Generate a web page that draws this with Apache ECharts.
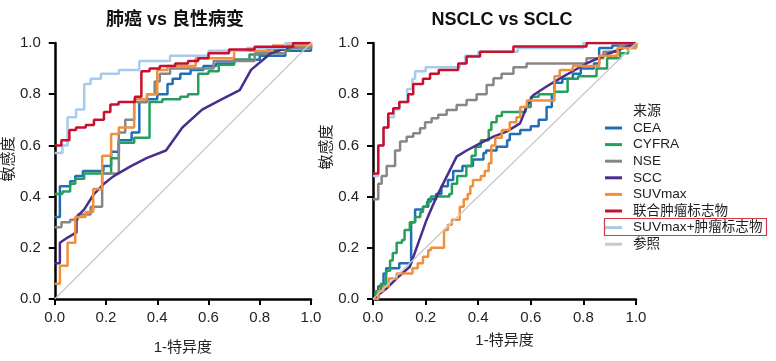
<!DOCTYPE html>
<html lang="zh">
<head>
<meta charset="UTF-8">
<title>ROC 曲线</title>
<script src="https://cdn.jsdelivr.net/npm/echarts@6/dist/echarts.min.js"></script>
<style>
  html, body { margin: 0; padding: 0; background: #fff; }
  #main { width: 776px; height: 361px; }
</style>
</head>
<body>
<div id="main"></div>
<script>
// tick labels / names
var ticks = [0, 0.2, 0.4, 0.6, 0.8, 1.0];
var seriesNames = ['CEA', 'CYFRA', 'NSE', 'SCC', 'SUVmax', '联合肿瘤标志物', 'SUVmax+肿瘤标志物', '参照'];
var colors = ['#1f6fb4', '#25a05c', '#868686', '#4b2d8d', '#f08f3c', '#c8102e', '#a8cbec', '#c9c9c9'];

// left panel: 肺癌 vs 良性病变  ([x, y] points where the curve steps up)
var leftCEA = [[0,0.32],[0.02,0.44],[0.06,0.46],[0.08,0.48],[0.11,0.50],[0.19,0.52],[0.22,0.575],[0.25,0.62],[0.30,0.65],[0.33,0.77],[0.36,0.78],[0.40,0.80],[0.44,0.84],[0.46,0.86],[0.49,0.88],[0.53,0.895],[0.58,0.91],[0.63,0.92],[0.70,0.935],[0.80,0.95],[0.90,0.97],[1,0.99]];
var leftCYFRA = [[0,0.41],[0.03,0.42],[0.06,0.45],[0.08,0.47],[0.115,0.49],[0.22,0.55],[0.25,0.61],[0.31,0.63],[0.37,0.77],[0.42,0.78],[0.49,0.79],[0.52,0.80],[0.56,0.88],[0.60,0.89],[0.64,0.915],[0.70,0.935],[0.76,0.955],[0.83,0.974],[0.92,0.987],[1,0.99]];
var leftNSE = [[0,0.28],[0.026,0.30],[0.06,0.31],[0.09,0.33],[0.14,0.36],[0.185,0.49],[0.25,0.65],[0.275,0.70],[0.31,0.77],[0.36,0.80],[0.39,0.85],[0.41,0.88],[0.45,0.90],[0.62,0.93],[0.78,0.96],[0.9,0.98],[1,1]];
var leftSCC = [[0,0.14],[0.02,0.14],[0.02,0.22],[0.05,0.24],[0.085,0.26],[0.085,0.32],[0.115,0.35],[0.153,0.41],[0.192,0.45],[0.23,0.48],[0.294,0.517],[0.358,0.55],[0.434,0.58],[0.498,0.67],[0.575,0.74],[0.651,0.78],[0.722,0.816],[0.766,0.895],[0.843,0.96],[0.92,0.985],[1,1]];
var leftSUV = [[0,0.06],[0.02,0.13],[0.05,0.22],[0.08,0.32],[0.12,0.34],[0.15,0.43],[0.185,0.56],[0.22,0.645],[0.25,0.67],[0.31,0.78],[0.36,0.80],[0.40,0.895],[0.44,0.91],[0.55,0.94],[0.7,0.97],[0.85,0.99],[1,1]];
var leftCombo = [[0,0.60],[0.026,0.62],[0.057,0.66],[0.083,0.67],[0.121,0.68],[0.153,0.70],[0.192,0.73],[0.217,0.76],[0.249,0.77],[0.313,0.79],[0.338,0.89],[0.37,0.90],[0.41,0.91],[0.47,0.92],[0.52,0.93],[0.56,0.94],[0.60,0.96],[0.68,0.975],[0.78,0.985],[0.93,1.0],[1,1]];
var leftSUVCombo = [[0,0.57],[0.03,0.60],[0.05,0.71],[0.083,0.74],[0.115,0.84],[0.14,0.86],[0.18,0.88],[0.25,0.895],[0.33,0.93],[0.45,0.95],[0.6,0.97],[0.75,0.98],[0.9,1],[1,1]];

// right panel: NSCLC vs SCLC
var rightCEA = [[0,0],[0.02,0.05],[0.04,0.10],[0.05,0.12],[0.10,0.14],[0.145,0.30],[0.16,0.35],[0.19,0.36],[0.21,0.39],[0.24,0.41],[0.26,0.44],[0.285,0.465],[0.305,0.50],[0.34,0.52],[0.38,0.545],[0.42,0.57],[0.43,0.58],[0.47,0.595],[0.51,0.62],[0.52,0.645],[0.56,0.66],[0.60,0.675],[0.63,0.70],[0.66,0.75],[0.68,0.80],[0.69,0.845],[0.72,0.86],[0.76,0.88],[0.79,0.90],[0.84,0.92],[0.86,0.98],[0.91,0.99],[1,1]];
var rightCYFRA = [[0,0],[0.01,0.03],[0.03,0.06],[0.05,0.11],[0.065,0.15],[0.075,0.18],[0.09,0.22],[0.11,0.23],[0.12,0.27],[0.14,0.30],[0.16,0.32],[0.18,0.34],[0.19,0.36],[0.205,0.38],[0.22,0.40],[0.29,0.41],[0.30,0.45],[0.32,0.48],[0.355,0.52],[0.375,0.56],[0.39,0.595],[0.41,0.62],[0.44,0.66],[0.45,0.69],[0.47,0.715],[0.49,0.73],[0.58,0.75],[0.60,0.79],[0.63,0.80],[0.69,0.81],[0.74,0.86],[0.78,0.87],[0.85,0.90],[0.89,0.94],[0.94,0.96],[0.97,0.98],[1,1]];
var rightNSE = [[0,0.39],[0.02,0.45],[0.033,0.48],[0.052,0.52],[0.084,0.58],[0.103,0.615],[0.128,0.634],[0.153,0.647],[0.179,0.667],[0.198,0.69],[0.223,0.706],[0.248,0.72],[0.28,0.738],[0.318,0.758],[0.356,0.777],[0.394,0.80],[0.432,0.836],[0.458,0.862],[0.489,0.88],[0.534,0.905],[0.584,0.92],[0.812,0.94],[0.876,0.966],[0.939,0.99],[1,1]];
var rightSCC = [[0,0],[0.05,0.04],[0.10,0.09],[0.14,0.126],[0.204,0.31],[0.242,0.40],[0.28,0.478],[0.318,0.556],[0.356,0.58],[0.407,0.608],[0.458,0.634],[0.508,0.654],[0.559,0.686],[0.584,0.75],[0.61,0.797],[0.66,0.83],[0.711,0.862],[0.812,0.92],[0.9,0.96],[1,1]];
var rightSUV = [[0,0],[0.02,0.03],[0.04,0.05],[0.06,0.08],[0.09,0.10],[0.15,0.12],[0.17,0.14],[0.19,0.165],[0.21,0.19],[0.22,0.20],[0.27,0.27],[0.285,0.29],[0.30,0.31],[0.33,0.36],[0.345,0.39],[0.36,0.41],[0.37,0.44],[0.38,0.465],[0.41,0.48],[0.425,0.50],[0.44,0.53],[0.45,0.60],[0.465,0.63],[0.49,0.66],[0.52,0.69],[0.545,0.71],[0.56,0.75],[0.585,0.775],[0.69,0.78],[0.69,0.87],[0.71,0.895],[0.76,0.91],[0.86,0.95],[0.93,0.98],[1,1]];
var rightCombo = [[0,0.49],[0.02,0.60],[0.04,0.67],[0.058,0.725],[0.077,0.745],[0.10,0.77],[0.134,0.80],[0.153,0.84],[0.19,0.86],[0.217,0.88],[0.25,0.895],[0.324,0.92],[0.356,0.947],[0.407,0.966],[0.534,0.986],[0.812,1],[1,1]];
var rightSUVCombo = [[0,0.48],[0.02,0.60],[0.04,0.67],[0.06,0.71],[0.08,0.74],[0.10,0.77],[0.13,0.82],[0.15,0.86],[0.16,0.89],[0.20,0.905],[0.33,0.92],[0.35,0.95],[0.40,0.966],[0.55,0.98],[0.80,1],[1,1]];

var diagonal = [[0,0],[1,1]];

var font = 'Liberation Sans, Noto Sans CJK SC, sans-serif';

function axis(idx, nameGap) {
  return {
    type: 'value', gridIndex: idx, min: 0, max: 1, interval: 0.2,
    name: '', nameLocation: 'middle', nameGap: nameGap,
    nameTextStyle: { fontSize: 15, color: '#222', fontFamily: font },
    axisLine: { show: true, lineStyle: { color: '#000', width: 2.5 } },
    axisTick: { show: true, length: 6, lineStyle: { color: '#000', width: 2 } },
    axisLabel: {
      fontSize: 15, color: '#222', fontFamily: font,
      formatter: function (v) { return v.toFixed(1); }
    },
    splitLine: { show: false }
  };
}

function line(name, data, idx, stepped, width) {
  var i = seriesNames.indexOf(name);
  return {
    name: name, type: 'line', xAxisIndex: idx, yAxisIndex: idx,
    data: data, step: stepped ? 'end' : false,
    showSymbol: false, symbol: 'none', animation: false,
    color: colors[i],
    lineStyle: { color: colors[i], width: width || 2.5 }
  };
}

var x0 = axis(0, 41); x0.name = '1-特异度'; x0.axisLabel.margin = 11;
var x1 = axis(1, 34); x1.name = '1-特异度'; x1.axisLabel.margin = 11;
var y0 = axis(0, 30); y0.name = '敏感度'; y0.axisLabel.margin = 14;
y0.nameTextStyle.padding = [0, 0, 0, 24];
var y1 = axis(1, 25); y1.name = '敏感度'; y1.axisLabel.margin = 14;
y1.nameTextStyle.padding = [0, 0, 0, 48];

var chart = echarts.init(document.getElementById('main'));
var option = {
  backgroundColor: '#fff',
  title: [
    { text: '肺癌 vs 良性病变', left: 170, top: 6, textAlign: 'center',
      textStyle: { fontSize: 18, fontWeight: 'bold', color: '#111', fontFamily: font } },
    { text: 'NSCLC vs SCLC', left: 497, top: 6, textAlign: 'center',
      textStyle: { fontSize: 18, fontWeight: 'bold', color: '#111', fontFamily: font } },
    { text: '来源', left: 633, top: 104, padding: 0,
      textStyle: { fontSize: 14, fontWeight: 'normal', color: '#222', fontFamily: font } }
  ],
  grid: [
    { left: 50, top: 43, width: 261, height: 256 },
    { left: 373, top: 43, width: 263, height: 256 }
  ],
  xAxis: [x0, x1],
  yAxis: [y0, y1],
  legend: {
    data: seriesNames, orient: 'vertical', left: 605, top: 120, padding: 0,
    icon: 'rect', itemWidth: 17, itemHeight: 3, itemGap: 0.6,
    textStyle: { fontSize: 13.6, lineHeight: 16, color: '#222', fontFamily: font, padding: [0, 0, 0, 6] },
    selectedMode: false
  },
  graphic: [
    { type: 'rect', left: 602, top: 216, shape: { width: 162, height: 17 },
      style: { fill: 'none', stroke: '#d33a45', lineWidth: 1.2 }, z: 100 }
  ],
  series: [
    line('CEA', leftCEA, 0, true),
    line('CYFRA', leftCYFRA, 0, true),
    line('NSE', leftNSE, 0, true),
    line('SCC', leftSCC, 0, false),
    line('SUVmax', leftSUV, 0, true),
    line('SUVmax+肿瘤标志物', leftSUVCombo, 0, true),
    line('联合肿瘤标志物', leftCombo, 0, true),
    line('参照', diagonal, 0, false, 1.3),
    line('CEA', rightCEA, 1, true),
    line('CYFRA', rightCYFRA, 1, true),
    line('NSE', rightNSE, 1, true),
    line('SCC', rightSCC, 1, false),
    line('SUVmax', rightSUV, 1, true),
    line('SUVmax+肿瘤标志物', rightSUVCombo, 1, true),
    line('联合肿瘤标志物', rightCombo, 1, true),
    line('参照', diagonal, 1, false, 1.3)
  ]
};
chart.setOption(option);
window.onresize = chart.resize;
</script>
</body>
</html>
